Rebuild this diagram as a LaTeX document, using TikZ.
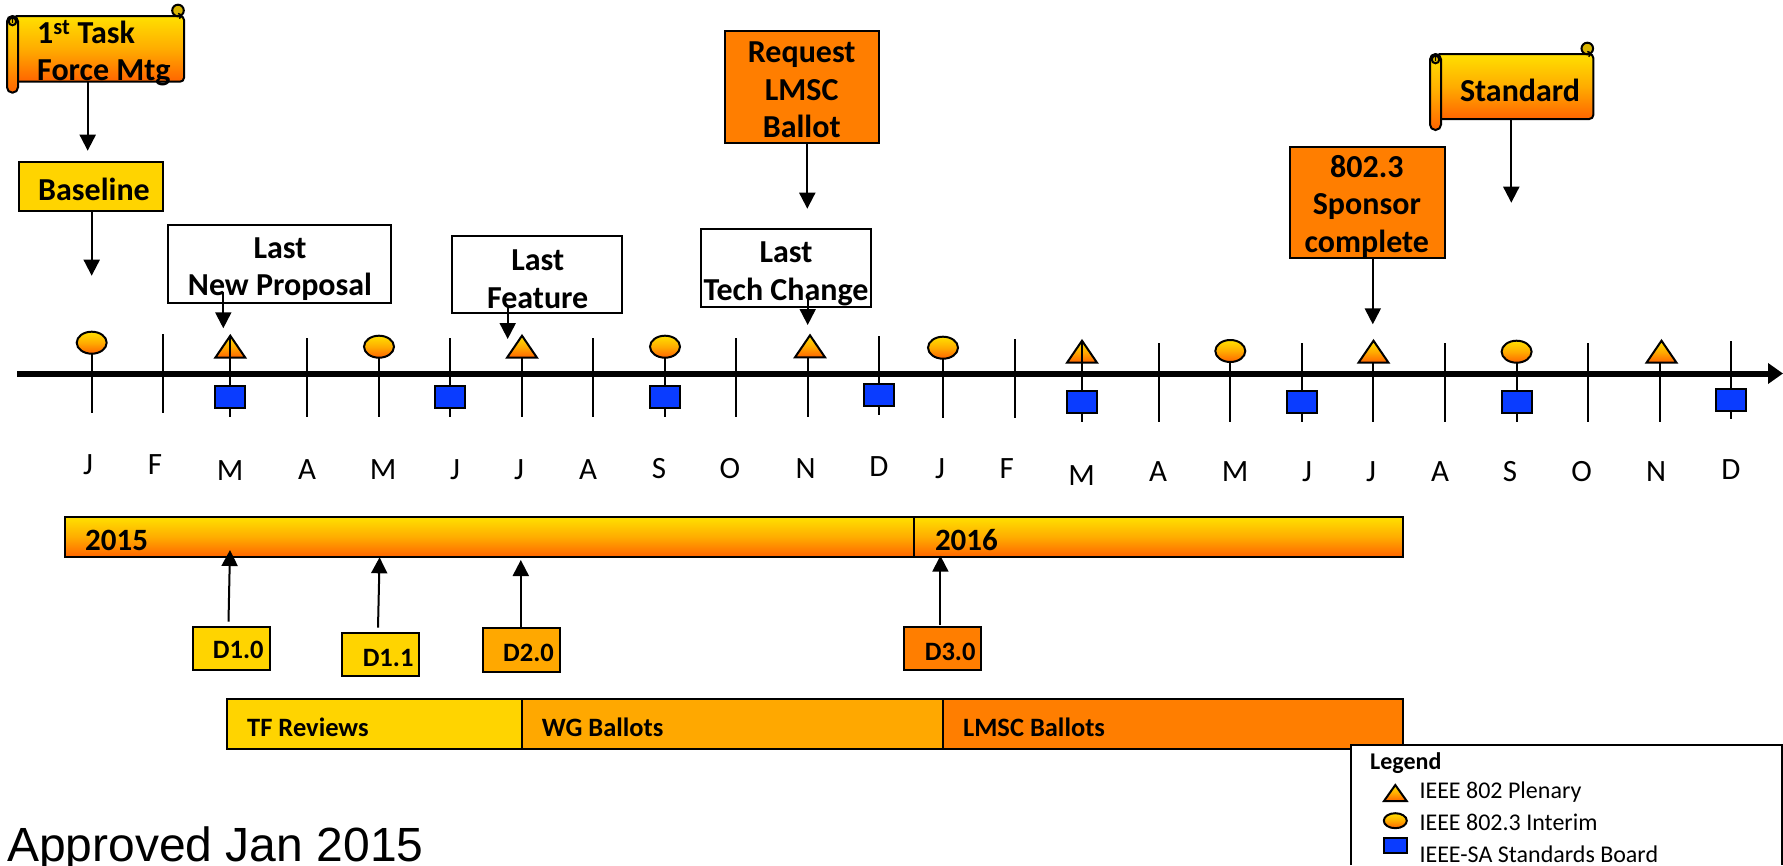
\documentclass[tikz,border=0pt]{standalone}
\usepackage{fontspec}
\setmainfont{Carlito}
\newfontfamily\arialfont{Liberation Sans}
\usetikzlibrary{arrows.meta,shapes.geometric}
\definecolor{goldA}{HTML}{FFE000}
\definecolor{midG}{HTML}{FFAC00}
\definecolor{orangeA}{HTML}{FF6400}
\definecolor{curlgold}{HTML}{D8B400}
\definecolor{yel}{HTML}{FFD400}
\definecolor{amb}{HTML}{FFA800}
\definecolor{org}{HTML}{FF7E00}
\definecolor{blu}{HTML}{0A3CFF}
\tikzset{
  outl/.style={draw=black,line width=2pt},
  grad/.style={outl,top color=goldA,bottom color=orangeA,middle color=midG},
  boxn/.style={outl,rectangle,inner sep=0pt,outer sep=0pt},
  gradbox/.style={boxn,grad},
  yelbox/.style={boxn,fill=yel},
  ambbox/.style={boxn,fill=amb},
  orgbox/.style={boxn,fill=org},
  whitebox/.style={boxn,fill=white},
  bluebox/.style={outl,rectangle,inner sep=0pt,outer sep=0pt,fill=blu,minimum width=30pt,minimum height=22pt},
  interim/.style={grad,ellipse,inner sep=0pt,outer sep=0pt,minimum width=30pt,minimum height=22pt},
  plenary/.style={grad,line join=miter},
  arr/.style={draw=black,line width=2pt,-{Triangle[length=16pt,width=16pt]}},
  tick/.style={draw=black,line width=2pt},
  bigt/.style={font=\fontsize{32}{37.5}\selectfont\bfseries,align=center,inner sep=0pt},
  midt/.style={font=\fontsize{26.5}{32}\selectfont\bfseries,inner sep=0pt,anchor=west},
  yeart/.style={font=\fontsize{31}{38}\selectfont\bfseries,inner sep=0pt,anchor=west},
  montht/.style={font=\fontsize{31}{36}\selectfont,inner sep=0pt},
  legt/.style={font=\fontsize{24}{29}\selectfont,inner sep=0pt,anchor=west}
}
\newcommand{\boxat}[6]{\node[#1,minimum width={(#5-(#3))*1pt},minimum height={(#6-(#4))*1pt}] (#2) at ({((#3)+(#5))/2},{((#4)+(#6))/2}) {};}
\newcommand{\plen}[3][]{\begin{scope}\draw[plenary] ({#2-15},{#3+22}) -- (#2,#3) -- ({#2+15},{#3+22}) -- cycle;\end{scope}}
% name, left x, top y, right x, body bottom, roll bottom
\newcommand{\scrollbanner}[6]{%
  \boxat{gradbox,rounded corners=4pt}{#1}{#2+6}{#3}{#4}{#5}
  \draw[outl,fill=curlgold] ({#4-6},{#3-5.5}) circle (5.8pt);
  \draw[outl,line width=1.5pt] ({#4-6},{#3-2.5}) arc (90:-60:2.8pt);
  \draw[outl,top color=goldA,bottom color=orangeA,middle color=midG,rounded corners=5.4pt] (#2,#3) rectangle ({#2+11},#6);
  \draw[outl,fill=curlgold] ({#2+5.5},{#3+5.5}) circle (3.8pt);
  \draw[outl,line width=1.5pt] ({#2+5.5},{#3+2}) -- ({#2+5.5},{#3+7});
}
\begin{document}
\begin{tikzpicture}[x=1pt,y=-1pt]
\useasboundingbox (0,0) rectangle (1783,865);
% ticks and axis
\foreach \x/\t/\b in {91.7/345/413,163.3/334/413,230.3/336/417,307.3/338/417,379/347/417,450/338/417,522/357/417,593/338/417,665/347/417,736.3/338/417,807.7/357/417,879/336/415,943/348/418,1014.7/339/418,1082/340/422,1159/343/422,1230.3/351/422,1301.8/343/422,1373/362/422,1444.7/343/422,1516.6/352/422,1587.6/343/422,1659.5/362/422,1730.5/341/419}
  \draw[tick] (\x,\t) -- (\x,\b);
\coordinate (axisL) at (17,373.5);
\coordinate (axisR) at (1783,373.5);
\draw[line width=6pt,-{Triangle[length=15pt,width=20pt]}] (axisL) -- (axisR);
% plenaries
\plen{230.3}{335.7}
\draw[tick] (230.3,336) -- (230.3,385);
\plen{522}{335.7}
\draw[tick] (522,358) -- (522,372);
\plen{810}{335.3}
\draw[tick] (807.7,358) -- (807.7,372);
\plen{1082}{340.7}
\draw[tick] (1082,340) -- (1082,391);
\plen{1373.5}{340.7}
\draw[tick] (1373,363) -- (1373,372);
\plen{1661.5}{340.7}
\draw[tick] (1659.5,363) -- (1659.5,372);
% interims
\foreach \x/\y [count=\i] in {91.7/342.7,379/346.7,665/346.7,943/347.7,1230.3/351,1516.6/351.7}
  \node[interim] (int\i) at (\x,\y) {};
% boards
\foreach \x/\y [count=\i] in {230.3/397,450/397,665/397,879/395,1082/401.7,1301.8/401.7,1516.6/401.7,1730.5/399.7}
  \node[bluebox] (brd\i) at (\x,\y) {};
% months
\foreach \t/\x/\y [count=\i] in {J/88/465,F/155/465,M/230/470.5,A/307/469.5,M/383/469.5,J/455/469.5,J/519/469.5,A/588/469.5,S/659/468.5,O/730/468.5,N/805.7/468.5,D/879/466.5,J/940/468.5,F/1006.7/468.5,M/1081.7/475.5,A/1158/471.5,M/1235/471.5,J/1307/471.5,J/1371/471.5,A/1440/471.5,S/1510/471.5,O/1581.6/471.5,N/1656/471.5,D/1731/469.5}
  \node[montht] (mon\i) at (\x,\y) {\t};
% milestones
\scrollbanner{scrollA}{7}{16}{184}{81.7}{92.7}
\node[bigt,align=left,anchor=north west] (scrollAt) at (37,20) {1\textsuperscript{st} Task\\Force Mtg};
\scrollbanner{scrollB}{1430}{54}{1593.3}{119}{130}
\node[bigt] (scrollBt) at (1520,90) {Standard};
\boxat{yelbox}{base}{19}{162}{163}{211}
\node[bigt] (baset) at (94,189) {Baseline};
\coordinate (tipScrollA) at (87.7,150.7);
\coordinate (tipBase) at (91.7,275.7);
\draw[arr] (scrollA.south -| tipScrollA) -- (tipScrollA);
\draw[arr] (base.south -| tipBase) -- (tipBase);
\boxat{whitebox}{lastnew}{167.7}{225}{391}{302.7}
\node[bigt] (lastnewt) at (280,269) {Last\\New Proposal};
\coordinate (fromNew) at (223.3,291.7);
\coordinate (tipNew) at (223.3,328.3);
\draw[arr] (fromNew) -- (tipNew);
\boxat{whitebox}{lastfeat}{452.3}{235.7}{622.3}{313.3}
\node[bigt] (lastfeatt) at (537.7,279) {Last\\Feature};
\coordinate (fromFeat) at (507.7,305);
\coordinate (tipFeat) at (507.7,339);
\draw[arr] (fromFeat) -- (tipFeat);
\boxat{orgbox}{reqlmsc}{724.7}{31}{879.3}{142.7}
\node[bigt] (reqlmsct) at (801.7,90) {Request\\LMSC\\Ballot};
\coordinate (tipReq) at (807.3,208.7);
\draw[arr] (reqlmsc.south -| tipReq) -- (tipReq);
\boxat{whitebox}{lasttech}{700.7}{229.3}{871}{307.3}
\node[bigt] (lasttecht) at (786,274) {Last\\Tech Change};
\coordinate (fromTech) at (807.7,296.7);
\coordinate (tipTech) at (807.7,325);
\draw[arr] (fromTech) -- (tipTech);
\boxat{orgbox}{sponsor}{1289.7}{146.7}{1444.7}{258.3}
\node[bigt] (sponsort) at (1366.8,206) {802.3\\Sponsor\\complete};
\coordinate (tipSponsor) at (1372.8,324.3);
\draw[arr] (sponsor.south -| tipSponsor) -- (tipSponsor);
\coordinate (tipStd) at (1511.3,202.7);
\draw[arr] (scrollB.south -| tipStd) -- (tipStd);
% year bar
\boxat{gradbox}{y2015}{65}{517}{914.4}{557}
\boxat{gradbox}{y2016}{914.4}{517}{1403}{557}
\node[yeart] (y2015t) at (85,540) {2015};
\node[yeart] (y2016t) at (934.8,540) {2016};
% drafts
\boxat{yelbox}{d10}{192.6}{626.7}{269.7}{670.3}
\boxat{yelbox}{d11}{342}{632.7}{419}{676}
\boxat{ambbox}{d20}{482.8}{628.3}{560.3}{672.3}
\boxat{orgbox}{d30}{904}{626.7}{981}{670}
\node[midt] (d10t) at (212.7,650) {D1.0};
\node[midt] (d11t) at (362.6,657.5) {D1.1};
\node[midt] (d20t) at (503,652.7) {D2.0};
\node[midt] (d30t) at (924.6,651.7) {D3.0};
\coordinate (fromD10) at (228.5,621.7);
\coordinate (tipD10) at (230,550);
\coordinate (fromD11) at (378,627.7);
\coordinate (tipD11) at (379.6,557.3);
\coordinate (tipD20) at (520.8,560);
\coordinate (fromD30) at (940.4,625);
\coordinate (tipD30) at (940.4,555.7);
\draw[arr] (fromD10) -- (tipD10);
\draw[arr] (fromD11) -- (tipD11);
\draw[arr] (d20.north -| tipD20) -- (tipD20);
\draw[arr] (fromD30) -- (tipD30);
% review bars
\boxat{yelbox}{tfrev}{227.4}{699.3}{522.3}{748.7}
\boxat{ambbox}{wgbal}{522.3}{699.3}{943}{748.7}
\boxat{orgbox}{lmscbal}{943}{699.3}{1403}{748.7}
\node[midt] (tfrevt) at (247,727) {TF Reviews};
\node[midt] (wgbalt) at (541.7,727) {WG Ballots};
\node[midt] (lmscbalt) at (962.9,727) {LMSC Ballots};
% legend
\fill[white] (1351,745) rectangle (1782,865);
\draw[outl] (1351,865) -- (1351,745) -- (1782,745) -- (1782,865);
\node[legt,font=\fontsize{24}{29}\selectfont\bfseries] (legt) at (1370,763) {Legend};
\draw[plenary] (1384,801) -- (1395.3,785) -- (1406.7,801) -- cycle;
\node[legt] (legA) at (1419.3,792) {IEEE 802 Plenary};
\node[interim,minimum width=23pt,minimum height=15pt] (legB) at (1395.3,820.7) {};
\node[legt] (legBt) at (1419.3,822.5) {IEEE 802.3 Interim};
\node[bluebox,minimum width=23pt,minimum height=15.5pt] (legC) at (1395.3,845.5) {};
\node[legt] (legCt) at (1419.3,854) {IEEE-SA Standards Board};
% note
\node[font=\fontsize{48}{56}\selectfont\arialfont,inner sep=0pt,anchor=base west] (approved) at (7,861) {Approved Jan 2015};
\end{tikzpicture}
\end{document}
